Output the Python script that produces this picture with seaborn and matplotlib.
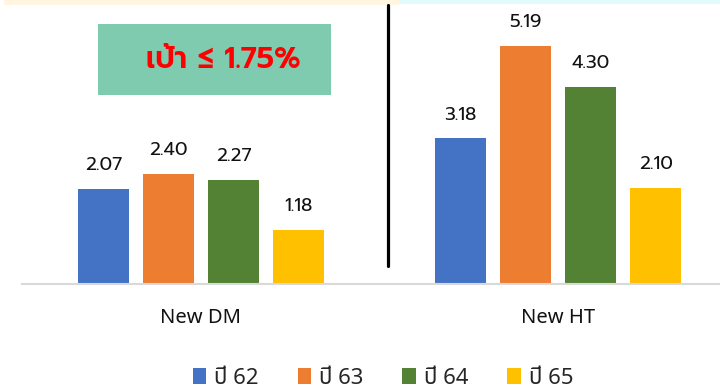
import matplotlib
matplotlib.use("Agg")
import matplotlib.pyplot as plt
from matplotlib.patches import Rectangle
from matplotlib.lines import Line2D
import seaborn as sns
import pandas as pd

# Data
groups = ["New DM", "New HT"]
years = ["ปี 62", "ปี 63", "ปี 64", "ปี 65"]
new_dm = [2.07, 2.40, 2.27, 1.18]
new_ht = [3.18, 5.19, 4.30, 2.10]
colors = ["#4472C4", "#ED7D31", "#548235", "#FFC000"]
target_text = "เป้า ≤ 1.75%"

df = pd.DataFrame({
    "group": [g for g in groups for _ in years],
    "year": years * len(groups),
    "value": new_dm + new_ht,
})

sns.set_theme(style="white")
plt.rcParams["font.family"] = ["Noto Sans Thai", "DejaVu Sans"]

W, H = 720, 388
fig = plt.figure(figsize=(W / 100, H / 100), dpi=100)


def fx(px):
    return px / W


def fy(py):
    return 1 - py / H


# Plot area: baseline at y=284 px, spanning x=22..720 px
ax = fig.add_axes([fx(22), fy(284), fx(720 - 22), (284 - 5) / H])
sns.barplot(data=df, x="group", y="value", hue="year", palette=colors,
            width=0.73, gap=0.21, linewidth=0, saturation=1,
            ax=ax, legend=True)

px_per_cat = 357.0
ax.set_xlim(-(201 - 22) / px_per_cat, 1 + (720 - 558) / px_per_cat)
ax.set_ylim(0, (284 - 5) / 45.86)

for cont in ax.containers:
    ax.bar_label(cont, fmt="%.2f", padding=10.5, fontsize=13.5,
                 family=["Prompt", "DejaVu Sans"], color="#111111")

for s in ["top", "right", "left"]:
    ax.spines[s].set_visible(False)
ax.spines["bottom"].set_color("#D9D9D9")
ax.spines["bottom"].set_linewidth(1.5)
ax.set_yticks([])
ax.set_xlabel("")
ax.set_ylabel("")
ax.tick_params(axis="x", length=0, pad=17)
for lab in ax.get_xticklabels():
    lab.set_fontfamily(["Noto Sans Thai", "DejaVu Sans"])
    lab.set_fontsize(14.5)
    lab.set_color("#111111")

# Legend along the bottom
handles, labels = ax.get_legend_handles_labels()
ax.legend_.remove()
fig.legend(handles, labels, loc="center", ncol=4,
           bbox_to_anchor=(fx(383), fy(378)), bbox_transform=fig.transFigure,
           frameon=False, fontsize=16, handlelength=0.62, handleheight=0.7,
           handletextpad=0.35, columnspacing=1.75, borderaxespad=0)

# Thin coloured strips along the top edge
fig.add_artist(Rectangle((fx(4), fy(5)), fx(399 - 4), 5 / H,
                         transform=fig.transFigure, color="#FFF5E1", lw=0))
fig.add_artist(Rectangle((fx(399), fy(4)), fx(720 - 399), 4 / H,
                         transform=fig.transFigure, color="#E1FBFD", lw=0))

# Divider between the two groups
fig.add_artist(Line2D([fx(387.5), fx(387.5)], [fy(5), fy(266)],
                      transform=fig.transFigure, color="black", lw=2.3))

# Target box
fig.add_artist(Rectangle((fx(98), fy(95)), fx(331 - 98), (95 - 24) / H,
                         transform=fig.transFigure, color="#7FCBB0", lw=0))
fig.text(fx(223.5), fy(60), target_text, ha="center", va="center",
         fontsize=21.5, fontweight="semibold", color="#FF0000",
         family=["Prompt", "DejaVu Sans"])

fig.savefig("out.png", dpi=100)
